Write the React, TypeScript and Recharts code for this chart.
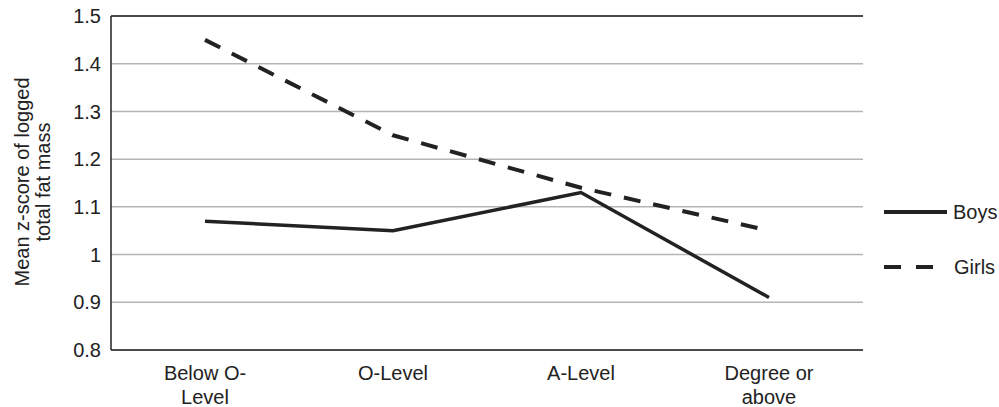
import React from 'react';
import {
  LineChart,
  Line,
  XAxis,
  YAxis,
  CartesianGrid,
  Legend,
  ReferenceLine,
  Label,
} from 'recharts';

const categories = ['Below O-Level', 'O-Level', 'A-Level', 'Degree or above'];
const tickLines: Record<string, string[]> = {
  'Below O-Level': ['Below O-', 'Level'],
  'O-Level': ['O-Level'],
  'A-Level': ['A-Level'],
  'Degree or above': ['Degree or', 'above'],
};
const boys = [1.07, 1.05, 1.13, 0.91];
const girls = [1.45, 1.25, 1.14, 1.05];
const yTicks = [0.8, 0.9, 1, 1.1, 1.2, 1.3, 1.4, 1.5];

const data = categories.map((name, i) => ({ name, Boys: boys[i], Girls: girls[i] }));

const font = '"Liberation Sans", Arial, sans-serif';
const textColor = '#222';

function XTick(props: any) {
  const { x, y, payload } = props;
  const lines = tickLines[payload.value] || [payload.value];
  return (
    <text x={x} y={y + 22} textAnchor="middle" fill={textColor} fontSize={20} fontFamily={font}>
      {lines.map((l, i) => (
        <tspan key={i} x={x} dy={i === 0 ? 0 : 24}>
          {l}
        </tspan>
      ))}
    </text>
  );
}

function YTitle(props: any) {
  const { viewBox } = props;
  const cy = viewBox.y + viewBox.height / 2 - 1;
  return (
    <text
      transform={`translate(29, ${cy}) rotate(-90)`}
      textAnchor="middle"
      fill={textColor}
      fontSize={20}
      fontFamily={font}
    >
      <tspan x={0} dy={0}>Mean z-score of logged</tspan>
      <tspan x={0} dy={21}>total fat mass</tspan>
    </text>
  );
}

function LegendBox(props: any) {
  const { payload } = props;
  return (
    <svg width={115} height={80} style={{ overflow: 'visible' }}>
      {payload.map((p: any, i: number) => {
        const y = 12 + i * 55;
        const dashed = p.value === 'Girls';
        return (
          <g key={p.value}>
            <line
              x1={0}
              x2={dashed ? 49 : 63}
              y1={y}
              y2={y}
              stroke="#222"
              strokeWidth={4}
              strokeDasharray={dashed ? '17 15' : undefined}
            />
            <text x={dashed ? 70 : 69} y={y + 7} fill={textColor} fontSize={20} fontFamily={font}>
              {p.value}
            </text>
          </g>
        );
      })}
    </svg>
  );
}

export default function App() {
  return (
    <div style={{ position: 'absolute', left: 0, top: 0, background: '#fff' }}>
      <LineChart
        width={999}
        height={407}
        data={data}
        margin={{ top: 16, right: 136, bottom: 0, left: 0 }}
      >
        <CartesianGrid vertical={false} stroke="#b5b5b5" strokeWidth={1.5} />
        <XAxis
          dataKey="name"
          height={57}
          tickLine={false}
          axisLine={{ stroke: '#222', strokeWidth: 1.5 }}
          tick={<XTick />}
          interval={0}
          padding={{ left: 94, right: 94 }}
        />
        <YAxis
          width={111}
          domain={[0.8, 1.5]}
          ticks={yTicks}
          tickLine={false}
          axisLine={{ stroke: '#222', strokeWidth: 1.5 }}
          tick={{ fill: textColor, fontSize: 20, fontFamily: font }}
          tickMargin={4}
        >
          <Label content={<YTitle />} />
        </YAxis>
        <ReferenceLine y={1.5} stroke="#222" strokeWidth={1.5} />
        <Legend
          content={<LegendBox />}
          wrapperStyle={{ position: 'absolute', left: 884, top: 200, width: 115, height: 0, overflow: 'visible' }}
        />
        <Line
          dataKey="Boys"
          stroke="#222"
          strokeWidth={3.5}
          dot={false}
          isAnimationActive={false}
        />
        <Line
          dataKey="Girls"
          stroke="#222"
          strokeWidth={4}
          strokeDasharray="17 13"
          dot={false}
          isAnimationActive={false}
        />
      </LineChart>
    </div>
  );
}
